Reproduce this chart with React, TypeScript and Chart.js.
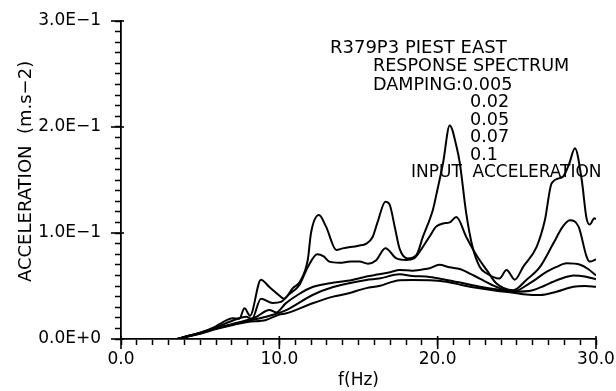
import { useEffect, useRef } from "react";
import { Chart, registerables } from "chart.js";

Chart.register(...registerables);

// ---- data ----
const xTickLabels = ["0.0", "10.0", "20.0", "30.0"];
const yTickLabels = ["0.0E+0", "1.0E\u22121", "2.0E\u22121", "3.0E\u22121"];

const infoLines = [
  "R379P3 PIEST EAST",
  "RESPONSE SPECTRUM",
  "DAMPING:0.005",
  "0.02",
  "0.05",
  "0.07",
  "0.1",
  "INPUT  ACCELERATION",
];

const f005 = [0, 3.5, 4, 5, 6, 6.4, 7.05, 7.47, 7.8, 8.15, 8.84, 9.37, 10, 10.3, 10.85, 11.3, 11.8, 12.0, 12.5, 12.95, 13.6, 14.0, 15.0, 15.5, 15.9, 16.2, 16.7, 16.96, 17.3, 17.6, 18.1, 18.65, 19.07, 19.7, 19.9, 20.34, 20.76, 21.2, 21.4, 21.8, 22.2, 22.66, 23.08, 23.9, 24.35, 24.87, 25.4, 26.25, 26.77, 27.2, 27.9, 28.3, 28.67, 29.1, 29.4, 29.6, 29.9, 30];
const a005 = [0, 0, 0.002, 0.006, 0.012, 0.0155, 0.0195, 0.019, 0.029, 0.022, 0.056, 0.049, 0.041, 0.038, 0.048, 0.054, 0.075, 0.1, 0.117, 0.106, 0.084, 0.0855, 0.088, 0.09, 0.0965, 0.11, 0.1295, 0.127, 0.105, 0.085, 0.076, 0.079, 0.0965, 0.122, 0.135, 0.166, 0.2015, 0.181, 0.166, 0.119, 0.087, 0.068, 0.062, 0.057, 0.065, 0.056, 0.068, 0.087, 0.112, 0.147, 0.153, 0.165, 0.18, 0.15, 0.114, 0.108, 0.114, 0.113];

const f02 = [0, 3.5, 4, 5, 6, 7, 7.9, 8.27, 8.84, 9.58, 10.1, 10.6, 11.27, 11.8, 12.4, 12.8, 13.16, 13.8, 14.5, 15.06, 15.6, 16.1, 16.7, 17.4, 18.0, 18.5, 19.07, 19.5, 19.9, 20.34, 20.76, 21.18, 21.8, 22.45, 23.1, 23.7, 24.77, 25.6, 26.46, 27.3, 27.9, 28.35, 28.9, 29.4, 29.6, 30];
const a02 = [0, 0, 0.002, 0.006, 0.011, 0.017, 0.021, 0.019, 0.038, 0.034, 0.035, 0.042, 0.051, 0.068, 0.08, 0.078, 0.073, 0.072, 0.073, 0.073, 0.071, 0.074, 0.0855, 0.076, 0.0745, 0.076, 0.087, 0.097, 0.106, 0.109, 0.11, 0.115, 0.0965, 0.079, 0.065, 0.0525, 0.046, 0.0557, 0.068, 0.09, 0.106, 0.112, 0.106, 0.078, 0.073, 0.075];

const f05 = [0, 3.5, 4, 5, 6, 7, 8, 8.5, 9.37, 9.8, 10.4, 11.2, 12.1, 13.2, 14.6, 15.5, 16.3, 17.0, 17.6, 18.4, 19.0, 19.5, 20.1, 20.76, 21.4, 22.0, 22.66, 23.7, 24.77, 25.8, 26.9, 27.5, 28.15, 29.0, 29.5, 30];
const a05 = [0, 0, 0.0018, 0.0055, 0.01, 0.014, 0.018, 0.0205, 0.0274, 0.025, 0.0336, 0.042, 0.049, 0.0525, 0.0557, 0.059, 0.061, 0.063, 0.065, 0.0645, 0.0655, 0.0667, 0.07, 0.0676, 0.066, 0.062, 0.057, 0.0493, 0.0446, 0.0525, 0.0635, 0.068, 0.0714, 0.07, 0.066, 0.06];

const f07 = [0, 3.5, 4, 5, 6, 7, 8, 9.16, 10.4, 12.1, 13.4, 15.5, 16.3, 17.6, 18.4, 19.5, 20.55, 21.5, 22.66, 23.7, 24.77, 26.0, 26.7, 27.3, 28.0, 28.57, 29.3, 30];
const a07 = [0, 0, 0.0018, 0.0053, 0.0098, 0.0135, 0.017, 0.021, 0.027, 0.0415, 0.049, 0.0557, 0.057, 0.061, 0.0595, 0.0585, 0.0557, 0.053, 0.0493, 0.047, 0.0446, 0.046, 0.05, 0.054, 0.058, 0.06, 0.059, 0.0563];

const f1 = [0, 3.5, 4, 5, 6, 7, 8, 9.16, 10, 10.4, 12.1, 13.4, 14.2, 15.5, 16.3, 17.6, 18.4, 19.5, 20.55, 21.5, 22.66, 23.7, 24.77, 25.6, 26.46, 27.5, 28.57, 29.3, 30];
const a1 = [0, 0, 0.0017, 0.005, 0.0093, 0.013, 0.016, 0.018, 0.023, 0.024, 0.0337, 0.04, 0.0425, 0.048, 0.05, 0.0555, 0.0557, 0.0555, 0.054, 0.051, 0.0478, 0.0455, 0.0437, 0.042, 0.0415, 0.0446, 0.0493, 0.05, 0.0493];

const seriesList = [
  { label: "0.005", f: f005, a: a005 },
  { label: "0.02", f: f02, a: a02 },
  { label: "0.05", f: f05, a: a05 },
  { label: "0.07", f: f07, a: a07 },
  { label: "0.1", f: f1, a: a1 },
];

const FONT = "DejaVu Sans";

const extrasPlugin = {
  id: "extras",
  afterDraw(chart: any) {
    const ctx = chart.ctx;
    const xs = chart.scales.x;
    const ys = chart.scales.y;
    ctx.save();
    ctx.strokeStyle = "#000";
    ctx.lineWidth = 1.6;
    // longer major ticks
    [0, 10, 20, 30].forEach((v) => {
      const px = xs.getPixelForValue(v);
      ctx.beginPath();
      ctx.moveTo(px, xs.top - 3);
      ctx.lineTo(px, xs.top + 10);
      ctx.stroke();
    });
    [0, 0.1, 0.2, 0.3].forEach((v) => {
      const py = ys.getPixelForValue(v);
      ctx.beginPath();
      ctx.moveTo(ys.right - 10, py);
      ctx.lineTo(ys.right + 3, py);
      ctx.stroke();
    });
    // info text
    ctx.fillStyle = "#000";
    ctx.textBaseline = "middle";
    ctx.textAlign = "left";
    const pos = [
      [330, 48, 18],
      [373, 66.5, 17.6],
      [373, 85, 17.6],
      [470, 102.5, 17.6],
      [470, 120, 17.6],
      [470, 137.5, 17.6],
      [470, 155, 17.6],
      [411, 173, 17],
    ];
    infoLines.forEach((t, i) => {
      ctx.font = `${pos[i][2]}px "${FONT}"`;
      ctx.fillText(t, pos[i][0], pos[i][1]);
    });
    ctx.restore();
  },
};

export default function App() {
  const ref = useRef<HTMLCanvasElement | null>(null);
  useEffect(() => {
    document.body.style.margin = "0";
    const canvas = ref.current;
    if (!canvas) return;
    const chart = new Chart(canvas, {
      type: "line",
      data: {
        datasets: seriesList.map((s) => ({
          label: s.label,
          data: s.f.map((fv, i) => ({ x: fv, y: s.a[i] })),
          borderColor: "#000",
          borderWidth: 2,
          pointRadius: 0,
          fill: false,
          cubicInterpolationMode: "monotone" as const,
        })),
      },
      options: {
        animation: false,
        responsive: false,
        devicePixelRatio: 1,
        layout: { padding: { top: 21, right: 20, left: 0, bottom: 0 } },
        plugins: {
          legend: { display: false },
          tooltip: { enabled: false },
        },
        scales: {
          x: {
            type: "linear",
            min: 0,
            max: 30,
            afterFit: (s: any) => {
              s.height = 52;
              s.paddingLeft = 0;
              s.paddingRight = 0;
            },
            border: { display: true, color: "#000", width: 1.8 },
            grid: {
              drawOnChartArea: false,
              drawTicks: true,
              tickLength: 6,
              tickColor: "#000",
              tickWidth: 1.5,
            },
            ticks: {
              stepSize: 1,
              autoSkip: false,
              maxRotation: 0,
              padding: 4,
              color: "#000",
              font: { family: FONT, size: 17 },
              callback: (v: any, i: number) => (i % 10 === 0 ? xTickLabels[i / 10] : ""),
            },
            title: {
              display: true,
              text: "f(Hz)",
              color: "#000",
              font: { family: FONT, size: 17 },
              padding: { top: 0, bottom: 0 },
            },
          },
          y: {
            type: "linear",
            min: 0,
            max: 0.3,
            afterFit: (s: any) => {
              s.width = 121;
              s.paddingTop = 0;
              s.paddingBottom = 0;
            },
            border: { display: true, color: "#000", width: 1.8 },
            grid: {
              drawOnChartArea: false,
              drawTicks: true,
              tickLength: 6,
              tickColor: "#000",
              tickWidth: 1.5,
            },
            ticks: {
              stepSize: 0.01,
              autoSkip: false,
              padding: 14,
              color: "#000",
              font: { family: FONT, size: 17 },
              callback: (v: any, i: number) => (i % 10 === 0 ? yTickLabels[i / 10] : ""),
            },
            title: {
              display: true,
              text: "   ACCELERATION  (m.s\u22122)",
              color: "#000",
              font: { family: FONT, size: 18 },
              padding: { top: 16, bottom: 0 },
            },
          },
        },
      },
      plugins: [extrasPlugin],
    });
    return () => chart.destroy();
  }, []);
  return (
    <div style={{ width: 616, height: 391 }}>
      <canvas ref={ref} width={616} height={391} />
    </div>
  );
}
